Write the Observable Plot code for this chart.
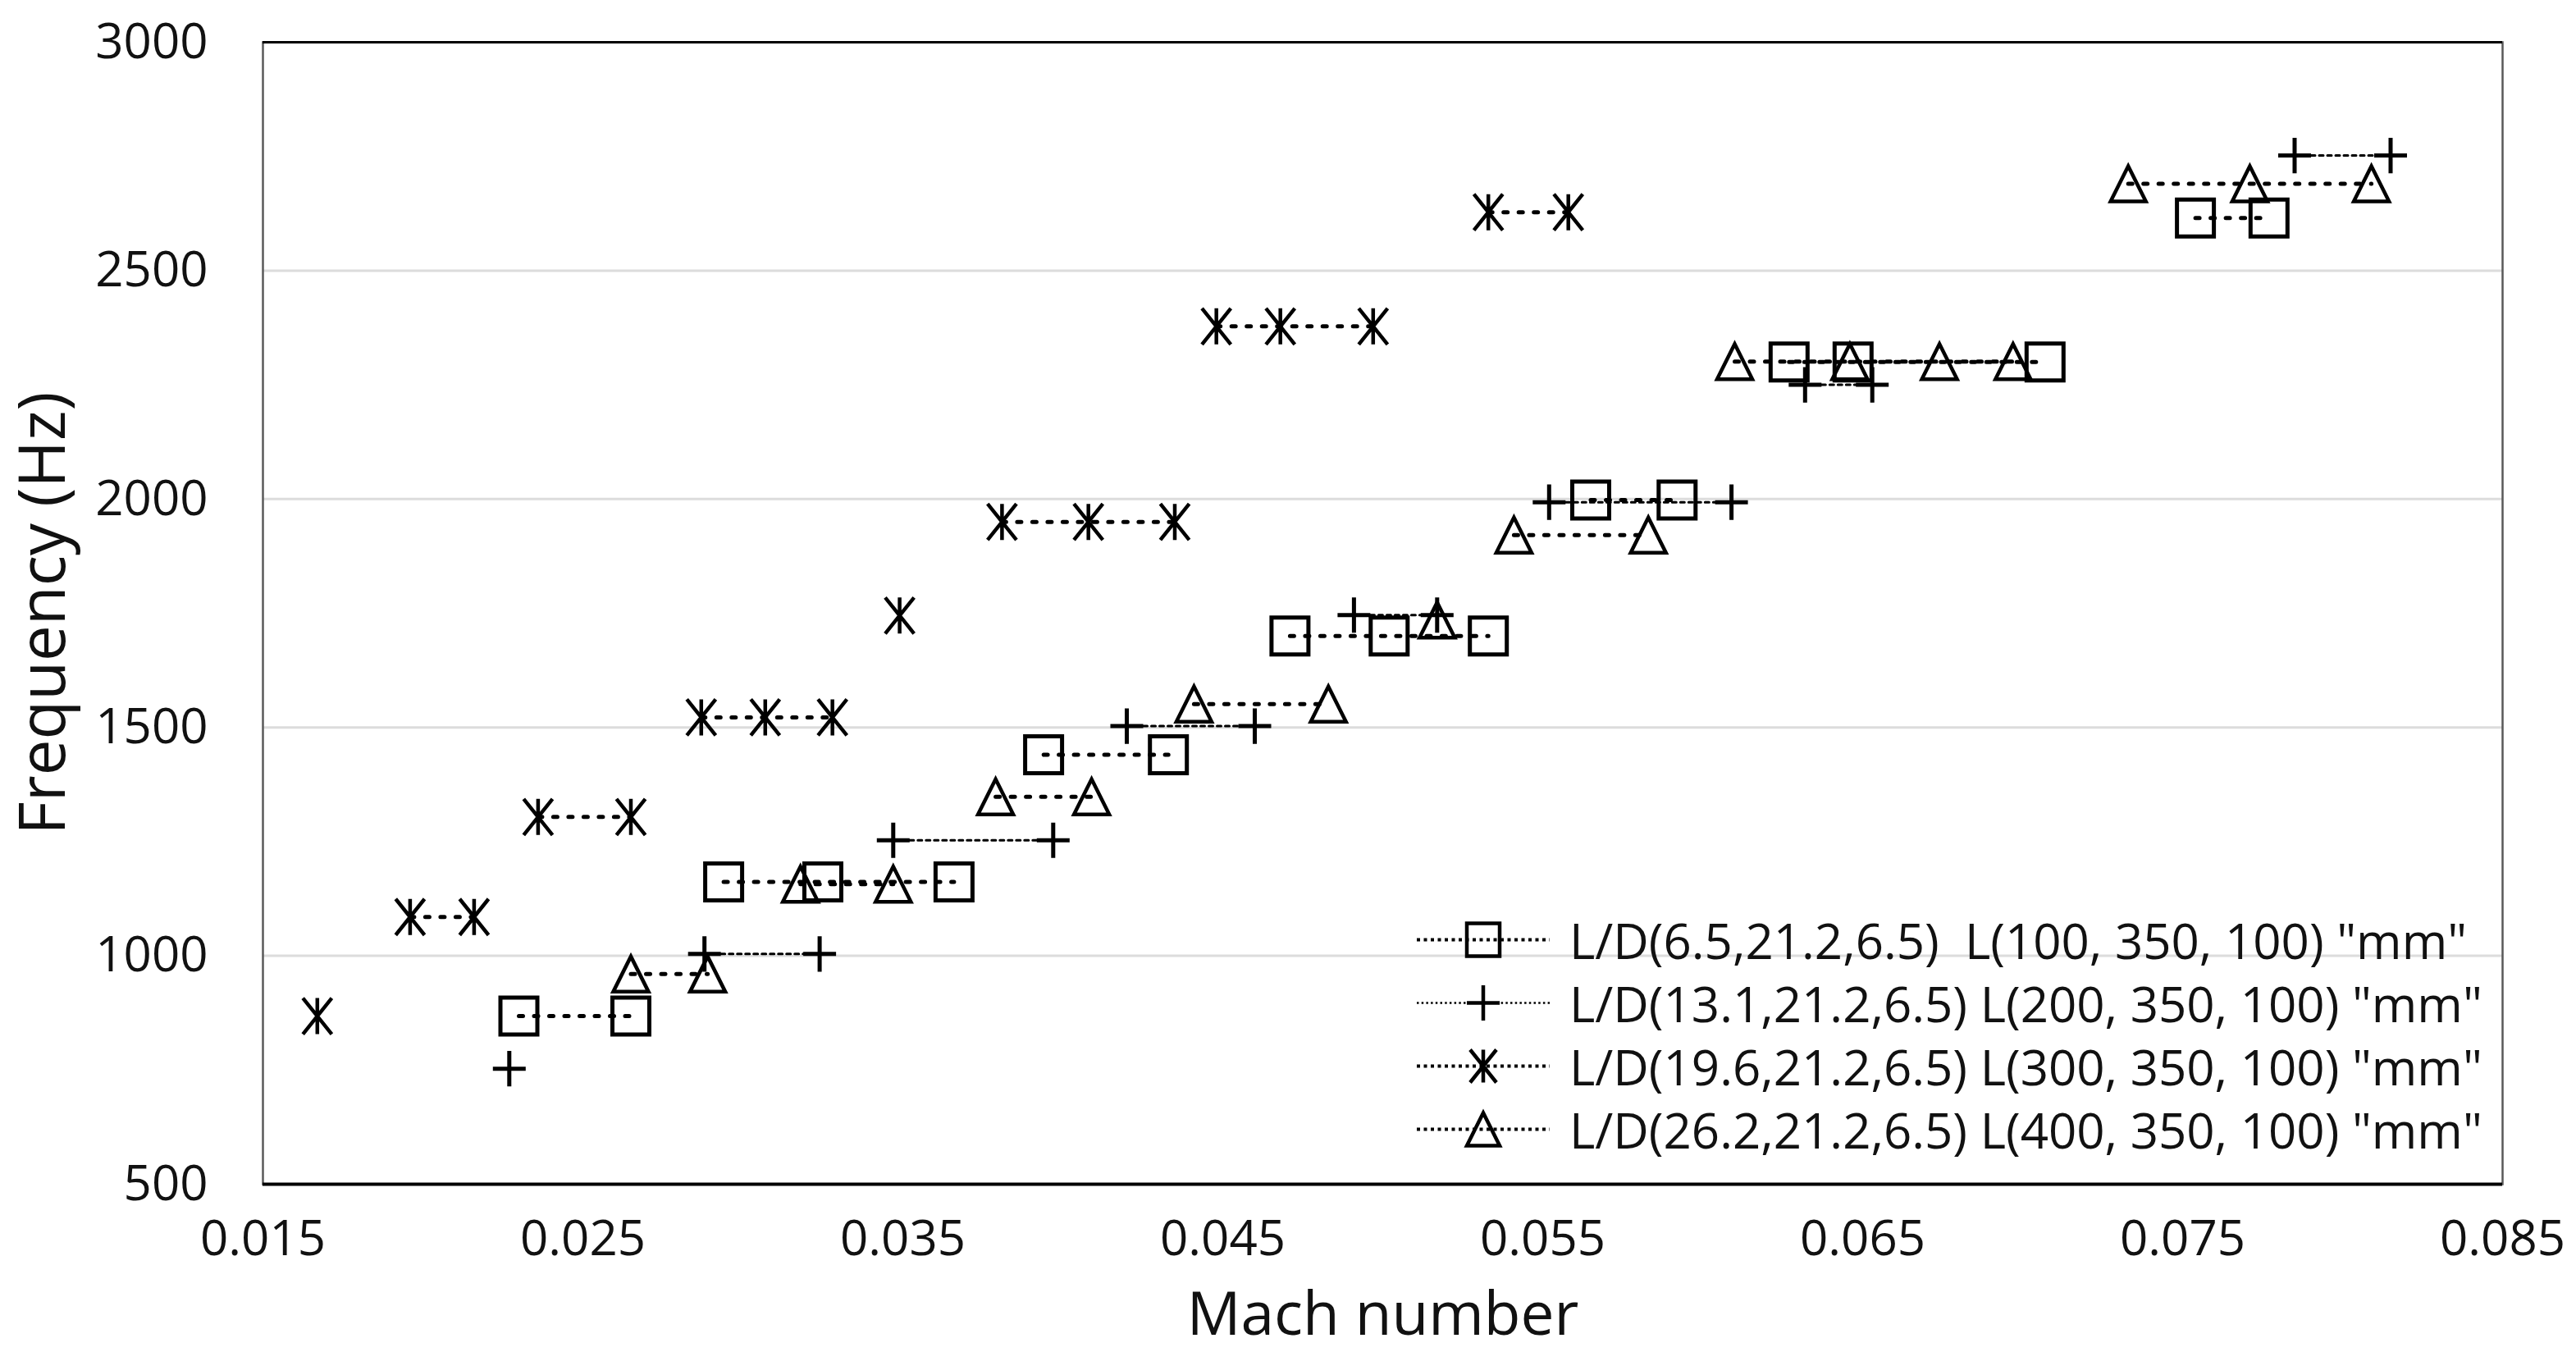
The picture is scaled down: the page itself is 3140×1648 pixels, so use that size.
<!DOCTYPE html>
<html><head><meta charset="utf-8">
<script src="https://cdn.jsdelivr.net/npm/d3@7"></script>
<script src="https://cdn.jsdelivr.net/npm/@observablehq/plot@0.6"></script>
<style>
html,body{margin:0;padding:0;background:#fff;}
#wrap{position:relative;width:3140px;height:1648px;font-family:'Open Sans',sans-serif;color:#111;}
#legend{position:absolute;left:1725px;top:1107px;}
.row{display:flex;align-items:center;height:77px;font-size:60px;white-space:pre;line-height:1;}
.row svg{margin-right:22px;flex:none;}
</style></head><body><div id="wrap"><div id="legend"></div></div>
<script>
// ---- data ----
const xTicks = [0.015, 0.025, 0.035, 0.045, 0.055, 0.065, 0.075, 0.085];
const yTicks = [500, 1000, 1500, 2000, 2500, 3000];

const seriesNames = [
  'L/D(6.5,21.2,6.5)  L(100, 350, 100) "mm"',
  'L/D(13.1,21.2,6.5) L(200, 350, 100) "mm"',
  'L/D(19.6,21.2,6.5) L(300, 350, 100) "mm"',
  'L/D(26.2,21.2,6.5) L(400, 350, 100) "mm"'
];

const sqMach = [0.0230, 0.0265, 0.0294, 0.0325, 0.0366, 0.0394, 0.0433, 0.0471, 0.0502, 0.0533, 0.0565, 0.0592, 0.0627, 0.0647, 0.0707, 0.0754, 0.0777];
const sqFreq = [868, 868, 1162, 1162, 1162, 1440, 1440, 1700, 1700, 1700, 1998, 1998, 2300, 2300, 2300, 2615, 2615];

const plMach = [0.0227, 0.0288, 0.0324, 0.0347, 0.0397, 0.0420, 0.0460, 0.0491, 0.0517, 0.0552, 0.0609, 0.0632, 0.0653, 0.0785, 0.0815];
const plFreq = [753, 1004, 1004, 1253, 1253, 1503, 1503, 1746, 1746, 1993, 1993, 2250, 2250, 2752, 2752];

const asMach = [0.0167, 0.0196, 0.0216, 0.0236, 0.0265, 0.0287, 0.0307, 0.0328, 0.0349, 0.0381, 0.0408, 0.0435, 0.0448, 0.0468, 0.0497, 0.0533, 0.0558];
const asFreq = [868, 1085, 1085, 1304, 1304, 1522, 1522, 1522, 1745, 1950, 1950, 1950, 2378, 2378, 2378, 2628, 2628];

const trMach = [0.0265, 0.0289, 0.0318, 0.0347, 0.0379, 0.0409, 0.0441, 0.0483, 0.0517, 0.0541, 0.0583, 0.0610, 0.0646, 0.0674, 0.0697, 0.0733, 0.0771, 0.0809];
const trFreq = [960, 960, 1157, 1157, 1348, 1348, 1551, 1551, 1735, 1921, 1921, 2301, 2301, 2301, 2301, 2690, 2690, 2690];

// ---- symbols ----
const rad = s => Math.sqrt(s / Math.PI);
const SQUARE = {draw(c, s) { const r = rad(s); c.moveTo(-r, -r); c.lineTo(r, -r); c.lineTo(r, r); c.lineTo(-r, r); c.closePath(); }};
const PLUS = {draw(c, s) { const r = rad(s); c.moveTo(-r, 0); c.lineTo(r, 0); c.moveTo(0, -r * 1.08); c.lineTo(0, r * 1.08); }};
const STAR = {draw(c, s) { const r = rad(s); const w = r * 0.8; c.moveTo(0, -r); c.lineTo(0, r); c.moveTo(-w, -r); c.lineTo(w, r); c.moveTo(w, -r); c.lineTo(-w, r); }};
const TRI = {draw(c, s) { const r = rad(s); c.moveTo(0, -r); c.lineTo(r, r); c.lineTo(-r, r); c.closePath(); }};

const toRows = (m, f) => m.map((v, i) => ({mach: v, freq: f[i]}));
const series = [
  {name: seriesNames[0], data: toRows(sqMach, sqFreq), symbol: SQUARE, r: 22.5, sw: 5, lw: 5, dash: "5 13.5", lgw: 4, lgDash: "4 4.5"},
  {name: seriesNames[1], data: toRows(plMach, plFreq), symbol: PLUS, r: 20, sw: 5, lw: 3, dash: "5 5", lgw: 2.5, lgDash: "2.5 3.2"},
  {name: seriesNames[2], data: toRows(asMach, asFreq), symbol: STAR, r: 22, sw: 4.5, lw: 5, dash: "5 13.5", lgw: 4, lgDash: "4 4.5"},
  {name: seriesNames[3], data: toRows(trMach, trFreq), symbol: TRI, r: 21.5, sw: 4.5, lw: 5, dash: "5 13.5", lgw: 4, lgDash: "4 4.5"}
];

const marks = [
  Plot.gridY(yTicks.slice(1, -1), {stroke: "#dcdcdc", strokeOpacity: 1, strokeWidth: 3}),
  Plot.frame({stroke: "#595959", strokeWidth: 2.5}),
  Plot.ruleY([yTicks[yTicks.length - 1]], {stroke: "#000", strokeWidth: 3}),
  Plot.ruleY([yTicks[0]], {stroke: "#000", strokeWidth: 4}),
  Plot.axisX(xTicks, {tickSize: 0, tickPadding: 44, tickFormat: d3.format(".3f"), fontSize: 60, label: null}),
  Plot.axisY(yTicks, {tickSize: 0, tickPadding: 67, tickFormat: d => String(d), fontSize: 60, label: null}),
  Plot.text(["Mach number"], {text: d => d, frameAnchor: "bottom", dy: 183, lineAnchor: "bottom", textAnchor: "middle", fontSize: 73}),
  Plot.text(["Frequency (Hz)"], {text: d => d, frameAnchor: "left", dx: -242, rotate: -90, lineAnchor: "bottom", textAnchor: "middle", fontSize: 78})
];
for (const s of series) {
  marks.push(Plot.line(s.data, {x: "mach", y: "freq", z: "freq", stroke: "#000", strokeWidth: s.lw, strokeDasharray: s.dash}));
}
for (const s of series) {
  marks.push(Plot.dot(s.data, {x: "mach", y: "freq", symbol: s.symbol, r: s.r, stroke: "#000", fill: "none", strokeWidth: s.sw}));
}

const chart = Plot.plot({
  width: 3140, height: 1648,
  marginLeft: 320, marginRight: 90, marginTop: 51, marginBottom: 205,
  style: {background: "transparent", fontFamily: "'Open Sans', sans-serif", fontSize: "60px", color: "#111", overflow: "visible"},
  x: {domain: [xTicks[0], xTicks[xTicks.length - 1]]},
  y: {domain: [yTicks[0], yTicks[yTicks.length - 1]]},
  marks
});
const wrap = document.getElementById("wrap");
wrap.insertBefore(chart, wrap.firstChild);

// ---- legend ----
const legend = document.getElementById("legend");
for (const s of series) {
  const row = document.createElement("div");
  row.className = "row";
  const W = 166, H = 77;
  const svg = d3.create("svg").attr("width", W).attr("height", H);
  svg.append("line").attr("x1", 2).attr("x2", W - 2).attr("y1", H / 2).attr("y2", H / 2)
    .attr("stroke", "#000").attr("stroke-width", s.lgw).attr("stroke-dasharray", s.lgDash);
  svg.append("path").attr("transform", `translate(${W / 2},${H / 2})`)
    .attr("d", d3.symbol(s.symbol, Math.PI * 20 * 20)())
    .attr("fill", "none").attr("stroke", "#000").attr("stroke-width", 4.5);
  row.appendChild(svg.node());
  const span = document.createElement("span");
  span.textContent = s.name;
  row.appendChild(span);
  legend.appendChild(row);
}
</script></body></html>
